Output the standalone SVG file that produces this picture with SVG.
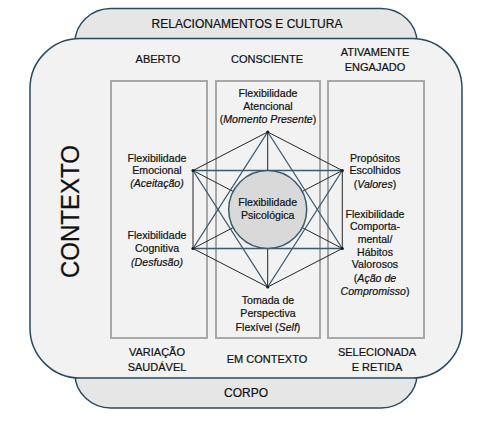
<svg xmlns="http://www.w3.org/2000/svg" width="492" height="437" viewBox="0 0 492 437">
<style>
.frame{stroke:#2b4a5e;stroke-width:1.5}
.tab{fill:#e6e6e6}
.main{fill:#f2f2f2}
.box{fill:none;stroke:#a8a8a8;stroke-width:2}
.t{font-family:"Liberation Sans",Arial,sans-serif;fill:#111111;stroke:#111111;stroke-width:0.2;text-anchor:middle}
.h{font-size:11px}
.ttl{font-size:12px}
.b{font-size:10.6px}
.i{font-style:italic}
.k{stroke:#262626;stroke-width:1;fill:none}
.s{stroke:#3d5a6e;stroke-width:1.3;fill:none}
</style>
<rect width="492" height="437" fill="#ffffff"/>
<g id="relacionamentos">
<rect class="frame tab" x="75" y="8.5" width="342" height="80" rx="36" ry="34"/>
<text class="t ttl" x="247" y="28">RELACIONAMENTOS E CULTURA</text>
</g>
<g id="corpo">
<rect class="frame tab" x="75" y="340" width="342" height="68" rx="36" ry="34"/>
<text class="t ttl" x="246" y="397">CORPO</text>
</g>
<g id="contexto">
<rect class="frame main" x="30" y="38.5" width="432" height="339.5" rx="50" ry="50"/>
<text class="t" font-size="25" transform="translate(78.5,211.5) rotate(-90)" x="0" y="0" textLength="133" lengthAdjust="spacingAndGlyphs">CONTEXTO</text>
</g>
<g id="headers">
<text class="t h" x="158" y="63">ABERTO</text>
<text class="t h" x="267" y="63">CONSCIENTE</text>
<text class="t h" x="375" y="56">ATIVAMENTE</text>
<text class="t h" x="375" y="71">ENGAJADO</text>
<text class="t h" x="157" y="356">VARIAÇÃO</text>
<text class="t h" x="157" y="370.5">SAUDÁVEL</text>
<text class="t h" x="267" y="363">EM CONTEXTO</text>
<text class="t h" x="377" y="356">SELECIONADA</text>
<text class="t h" x="377" y="370.5">E RETIDA</text>
</g>
<g id="col-aberto">
<rect class="box" x="111" y="81" width="96" height="257"/>
<text class="t b" x="157" y="161.5">Flexibilidade</text>
<text class="t b" x="157" y="174.3">Emocional</text>
<text class="t b i" x="157" y="187.3">(Aceitação)</text>
<text class="t b" x="157" y="239">Flexibilidade</text>
<text class="t b" x="157" y="252.3">Cognitiva</text>
<text class="t b i" x="157" y="265.5">(Desfusão)</text>
</g>
<g id="col-consciente">
<rect class="box" x="216" y="81" width="104" height="257"/>
<text class="t b" x="268" y="97">Flexibilidade</text>
<text class="t b" x="268" y="110">Atencional</text>
<text class="t b" x="268" y="123">(<tspan class="i">Momento Presente</tspan>)</text>
<text class="t b" x="268" y="304">Tomada de</text>
<text class="t b" x="268" y="317.3">Perspectiva</text>
<text class="t b" x="268" y="330.6">Flexível (<tspan class="i">Self</tspan>)</text>
</g>
<g id="col-engajado">
<rect class="box" x="328" y="81" width="96" height="257"/>
<text class="t b" x="375" y="161.5">Propósitos</text>
<text class="t b" x="375" y="174.3">Escolhidos</text>
<text class="t b" x="375" y="188">(<tspan class="i">Valores</tspan>)</text>
<text class="t b" x="375" y="217.5">Flexibilidade</text>
<text class="t b" x="375" y="230">Comporta-</text>
<text class="t b" x="375" y="242.7">mental/</text>
<text class="t b" x="375" y="256">Hábitos</text>
<text class="t b" x="375" y="268.3">Valorosos</text>
<text class="t b" x="375" y="281.6">(<tspan class="i">Ação de</tspan></text>
<text class="t b" x="375" y="295"><tspan class="i">Compromisso</tspan>)</text>
</g>
<g id="connectors">
<polygon class="k" points="267.7,132 342.3,170.5 342.3,248.5 267.7,287 193,248.5 193,170.5"/>
<line class="k" x1="267.7" y1="132" x2="267.7" y2="209.5"/>
<line class="k" x1="267.7" y1="287" x2="267.7" y2="209.5"/>
<line class="k" x1="193" y1="170.5" x2="267.7" y2="209.5"/>
<line class="k" x1="193" y1="248.5" x2="267.7" y2="209.5"/>
<line class="k" x1="342.3" y1="170.5" x2="267.7" y2="209.5"/>
<line class="k" x1="342.3" y1="248.5" x2="267.7" y2="209.5"/>
<polygon class="s" points="267.7,132 342.3,248.5 193,248.5"/>
<polygon class="s" points="267.7,287 342.3,170.5 193,170.5"/>
<g fill="#1a1a1a">
<circle cx="267.7" cy="132" r="1.6"/>
<circle cx="342.3" cy="170.5" r="1.6"/>
<circle cx="342.3" cy="248.5" r="1.6"/>
<circle cx="267.7" cy="287" r="1.6"/>
<circle cx="193" cy="248.5" r="1.6"/>
<circle cx="193" cy="170.5" r="1.6"/>
</g>
</g>
<g id="flexibilidade-psicologica">
<circle cx="267.7" cy="209.5" r="39" fill="#d9d9d9" stroke="#3d5a6e" stroke-width="1.5"/>
<text class="t b" x="267.7" y="205.5">Flexibilidade</text>
<text class="t b" x="267.7" y="219.3">Psicológica</text>
</g>
</svg>
